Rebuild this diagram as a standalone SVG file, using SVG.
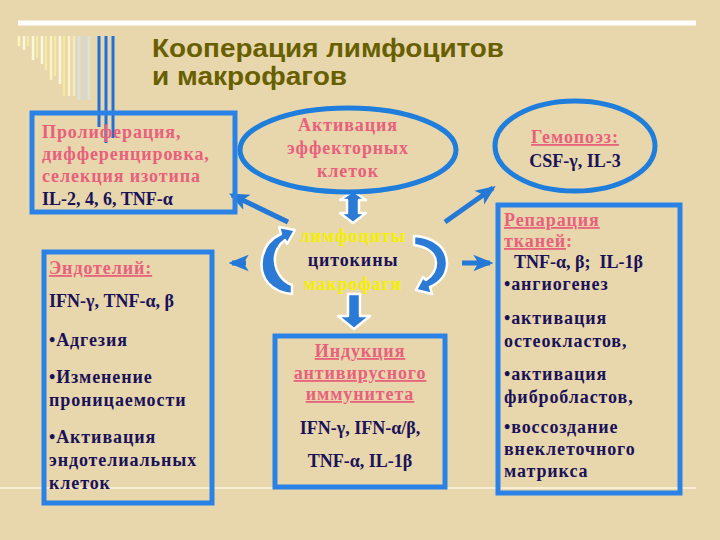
<svg xmlns="http://www.w3.org/2000/svg" width="720" height="540" viewBox="0 0 720 540">
<defs>
<style>
.ser{font-family:"Liberation Serif","DejaVu Serif",serif;font-weight:bold;font-size:18px}
.cy{letter-spacing:0.9px}
.pk{fill:#E8607C}
.nv{fill:#1A1258}
.yl{fill:#F4F000}
.ul{text-decoration:underline}
.box{fill:none;stroke:#2B82E6;stroke-width:5}
.ell{fill:none;stroke:#1F7EDC;stroke-width:5}
.ln{stroke:#2478D6;stroke-width:5;fill:none}
.blk{fill:#2A7AD6;stroke:#FFFFFF;stroke-width:2.5;stroke-linejoin:round}
</style>
<marker id="ah" viewBox="0 0 12 10" refX="10" refY="5" markerWidth="4" markerHeight="4" orient="auto" markerUnits="strokeWidth">
<path d="M0,0 L12,5 L0,10 L3,5 Z" fill="#2478D6"/>
</marker>
</defs>
<rect width="720" height="540" fill="#E8D6AC"/>
<g id="decor">
<line x1="18" y1="23" x2="696" y2="23" stroke="#FFFFFF" stroke-width="5"/>
<line x1="0" y1="488" x2="696" y2="488" stroke="#FFF6E0" stroke-width="1.5"/>
<g stroke-width="2.5">
<line x1="19" y1="36" x2="19" y2="46" stroke="#FFF4C0"/>
<line x1="24" y1="36" x2="24" y2="50" stroke="#FFF8D8"/>
<line x1="28" y1="36" x2="28" y2="46" stroke="#F6EAA8"/>
<line x1="33" y1="36" x2="33" y2="60" stroke="#FFF8D8"/>
<line x1="37" y1="36" x2="37" y2="58" stroke="#F6EAA8"/>
<line x1="42" y1="36" x2="42" y2="64" stroke="#FFF8D8"/>
<line x1="46" y1="36" x2="46" y2="70" stroke="#F6EAA8"/>
<line x1="51" y1="36" x2="51" y2="80" stroke="#FFF4C0"/>
<line x1="55" y1="36" x2="55" y2="76" stroke="#F6EAA8"/>
<line x1="60" y1="36" x2="60" y2="84" stroke="#FFF8D8"/>
<line x1="64" y1="36" x2="64" y2="96" stroke="#F6E8A0"/>
<line x1="69" y1="36" x2="69" y2="96" stroke="#FFF4C0"/>
<line x1="74" y1="36" x2="74" y2="96" stroke="#EDEBC8"/>
<line x1="79" y1="36" x2="79" y2="100" stroke="#D8E2E0"/>
<line x1="84" y1="36" x2="84" y2="100" stroke="#C8DAEA"/>
<line x1="89" y1="36" x2="89" y2="100" stroke="#D8E2E0"/>
</g>
<g stroke="#2070D8" stroke-width="3">
<line x1="99" y1="36" x2="99" y2="127"/>
<line x1="106" y1="36" x2="106" y2="143"/>
<line x1="113" y1="36" x2="113" y2="138"/>
</g>
</g>
<g id="title" fill="#675F00" font-family="'Liberation Sans Narrow','Liberation Sans',Arial,sans-serif" font-weight="bold" font-size="25">
<text x="152" y="57" textLength="352" lengthAdjust="spacingAndGlyphs">Кооперация лимфоцитов</text>
<text x="152" y="85" textLength="195" lengthAdjust="spacingAndGlyphs">и макрофагов</text>
</g>
<g id="connectors">
<line class="ln" x1="288" y1="222" x2="232" y2="195" marker-end="url(#ah)"/>
<line class="ln" x1="445" y1="222" x2="493" y2="188" marker-end="url(#ah)"/>
<line class="ln" x1="246" y1="263" x2="232" y2="263" marker-end="url(#ah)"/>
<line class="ln" x1="462" y1="263" x2="490" y2="263" marker-end="url(#ah)"/>
<path class="blk" d="M353,191 L366,200 L359,200 L359,213 L366,213 L353,223 L340,213 L347,213 L347,200 L340,200 Z"/>
<path class="blk" d="M348,294 L360,294 L360,316 L370,316 L354,329 L338,316 L348,316 Z"/>
<path class="blk" d="M292,294 C272,292 259,279 262,259 C264,246 272,238 281,234 L279,227 L295,230 L287,244 L285,240 C279,244 274,252 275,262 C276,274 284,282 292,285 Z"/>
<path class="blk" d="M414,236 C434,237 448,248 447,265 C446,276 439,283 430,287 L432,294 L416,290 L423,277 L426,280 C432,276 436,270 436,263 C436,253 427,247 414,245 Z"/>
</g>
<g id="n_prolif">
<rect class="box" x="32" y="113" width="203" height="99"/>
<text class="ser pk cy" x="42" y="138">Пролиферация,</text>
<text class="ser pk cy" x="42" y="160">дифференцировка,</text>
<text class="ser pk cy" x="42" y="182">селекция изотипа</text>
<text class="ser nv" x="42" y="205">IL-2, 4, 6, TNF-α</text>
</g>
<g id="n_activ">
<ellipse class="ell" cx="348" cy="150" rx="108" ry="42"/>
<text class="ser pk cy" text-anchor="middle" x="348" y="131">Активация</text>
<text class="ser pk cy" text-anchor="middle" x="348" y="154">эффекторных</text>
<text class="ser pk cy" text-anchor="middle" x="348" y="177">клеток</text>
</g>
<g id="n_hemo">
<ellipse class="ell" cx="575" cy="146" rx="80" ry="45"/>
<text class="ser pk ul cy" text-anchor="middle" x="575" y="143">Гемопоэз:</text>
<text class="ser nv" text-anchor="middle" x="575" y="167">CSF-γ, IL-3</text>
</g>
<g id="n_center">
<text class="ser yl cy" text-anchor="middle" x="353" y="242">лимфоциты</text>
<text class="ser nv cy" text-anchor="middle" x="353" y="266" font-size="16">цитокины</text>
<text class="ser yl cy" text-anchor="middle" x="353" y="290">макрофаги</text>
</g>
<g id="n_endo">
<rect class="box" x="44" y="252" width="168" height="251"/>
<text class="ser pk ul cy" x="49" y="274">Эндотелий:</text>
<text class="ser nv" x="49" y="307">IFN-γ, TNF-α, β</text>
<text class="ser nv cy" x="49" y="346">•Адгезия</text>
<text class="ser nv cy" x="49" y="383">•Изменение</text>
<text class="ser nv cy" x="49" y="406">проницаемости</text>
<text class="ser nv cy" x="49" y="443">•Активация</text>
<text class="ser nv cy" x="49" y="466">эндотелиальных</text>
<text class="ser nv cy" x="49" y="489">клеток</text>
</g>
<g id="n_antivir">
<rect class="box" x="275" y="336" width="170" height="151"/>
<text class="ser pk ul cy" text-anchor="middle" x="360" y="357">Индукция</text>
<text class="ser pk ul cy" text-anchor="middle" x="360" y="379">антивирусного</text>
<text class="ser pk ul cy" text-anchor="middle" x="360" y="400">иммунитета</text>
<text class="ser nv" text-anchor="middle" x="360" y="434">IFN-γ, IFN-α/β,</text>
<text class="ser nv" text-anchor="middle" x="360" y="467">TNF-α, IL-1β</text>
</g>
<g id="n_repair">
<rect class="box" x="498" y="205" width="182" height="288"/>
<text class="ser pk ul cy" x="504" y="226">Репарация</text>
<text class="ser cy" x="504" y="247"><tspan class="pk ul">тканей</tspan><tspan class="pk">:</tspan></text>
<text class="ser nv" x="514" y="268" style="white-space:pre">TNF-α, β;  IL-1β</text>
<text class="ser nv cy" x="504" y="290">•ангиогенез</text>
<text class="ser nv cy" x="504" y="324">•активация</text>
<text class="ser nv cy" x="504" y="347">остеокластов,</text>
<text class="ser nv cy" x="504" y="380">•активация</text>
<text class="ser nv cy" x="504" y="403">фибробластов,</text>
<text class="ser nv cy" x="504" y="433">•воссоздание</text>
<text class="ser nv cy" x="504" y="455">внеклеточного</text>
<text class="ser nv cy" x="504" y="477">матрикса</text>
</g>
</svg>
